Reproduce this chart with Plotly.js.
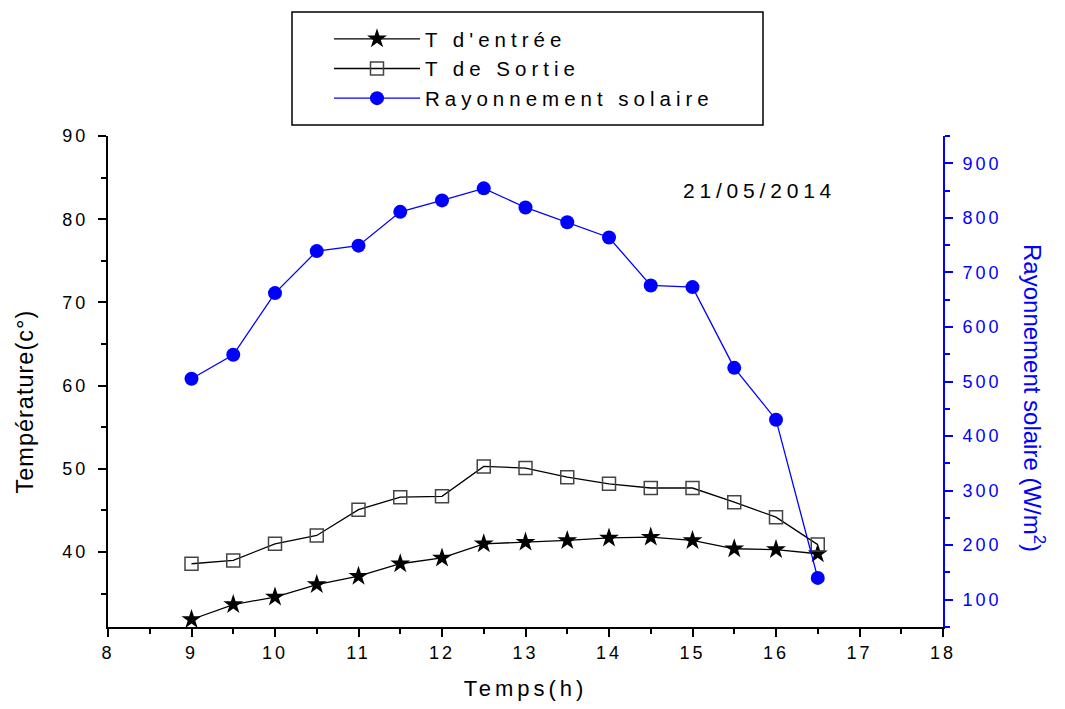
<!DOCTYPE html>
<html>
<head>
<meta charset="utf-8">
<script src="https://cdn.plot.ly/plotly-3.0.1.min.js"></script>
<style>
  html, body { margin: 0; padding: 0; background: #fff; }
  #chart { width: 1065px; height: 709px; }
  .xtick text, .ytick text, .y2tick text { letter-spacing: 3px; }
  .legendtext { letter-spacing: 5px; }
  .g-xtitle text { letter-spacing: 4px; }
  g.annotation[data-index="0"] text { letter-spacing: 4.8px; }
  g.annotation[data-index="2"] text { letter-spacing: 1px; }
</style>
</head>
<body>
<div id="chart"></div>
<script>
// ---- data ----
const hours = [9, 9.5, 10, 10.5, 11, 11.5, 12, 12.5, 13, 13.5, 14, 14.5, 15, 15.5, 16, 16.5];
const tEntree = [31.9, 33.7, 34.6, 36.1, 37.1, 38.6, 39.3, 41.0, 41.2, 41.4, 41.7, 41.8, 41.4, 40.4, 40.3, 39.8];
const tSortie = [38.6, 39.0, 41.0, 42.0, 45.1, 46.6, 46.7, 50.3, 50.1, 49.0, 48.2, 47.7, 47.7, 46.0, 44.2, 40.9];
const rayonnement = [505, 549, 662, 739, 749, 811, 832, 854, 819, 792, 764, 676, 673, 525, 430, 140];

const seriesNames = ["T d'entrée", "T de Sortie", "Rayonnement solaire"];
const xTitle = "Temps(h)";
const yTitle = "Température(c°)";
const y2Title = "Rayonnement solaire (W/m<sup>2</sup>)";
const dateLabel = "21/05/2014";

const font = "Liberation Sans, Arial, sans-serif";

const traces = [
  {
    x: hours, y: tEntree, name: seriesNames[0], type: 'scatter', mode: 'lines+markers',
    line: {color: '#000', width: 1.3},
    marker: {symbol: 'star', size: 15, color: '#000'},
    xaxis: 'x', yaxis: 'y'
  },
  {
    x: hours, y: tSortie, name: seriesNames[1], type: 'scatter', mode: 'lines+markers',
    line: {color: '#000', width: 1.3},
    marker: {symbol: 'square-open', size: 13, color: '#444', line: {width: 1.5, color: '#444'}},
    xaxis: 'x', yaxis: 'y'
  },
  {
    x: hours, y: rayonnement, name: seriesNames[2], type: 'scatter', mode: 'lines+markers',
    line: {color: '#0000ff', width: 1.3},
    marker: {symbol: 'circle', size: 14, color: '#0000ff'},
    xaxis: 'x', yaxis: 'y2'
  }
];

const W = 835, H = 491, L = 108, T = 136;
const px = v => (v - L) / W;
const py = v => 1 - (v - T) / H;

const layout = {
  width: 1065, height: 709,
  margin: {l: L, r: 1065 - L - W, t: T, b: 709 - T - H, pad: 0},
  paper_bgcolor: '#fff', plot_bgcolor: '#fff',
  font: {family: font, size: 18, color: '#000'},
  showlegend: true,
  legend: {
    x: px(329), y: py(19), xanchor: 'left', yanchor: 'top',
    bgcolor: 'rgba(0,0,0,0)', borderwidth: 0,
    font: {family: font, size: 20.5, color: '#000'},
    itemwidth: 86, tracegroupgap: 0
  },
  xaxis: {
    range: [8, 18], dtick: 1, tick0: 8,
    showgrid: false, zeroline: false,
    showline: true, linecolor: '#000', linewidth: 2,
    ticks: 'outside', ticklen: 8, tickwidth: 2, tickcolor: '#000',
    minor: {dtick: 0.5, ticks: 'outside', ticklen: 5, tickwidth: 2, tickcolor: '#000'},
    tickfont: {family: font, size: 18},
    title: {text: xTitle, font: {family: font, size: 22}, standoff: 19},
    anchor: 'y'
  },
  xaxis2: {
    range: [8, 18], dtick: 1, tick0: 8, overlaying: 'x', side: 'top', anchor: 'y',
    showgrid: false, zeroline: false, showticklabels: false,
    showline: true, linecolor: '#000', linewidth: 2,
    ticks: 'inside', ticklen: 8, tickwidth: 2, tickcolor: '#000',
    minor: {dtick: 0.5, ticks: 'inside', ticklen: 5, tickwidth: 2, tickcolor: '#000'}
  },
  yaxis: {
    range: [31, 90], dtick: 10, tick0: 0,
    showgrid: false, zeroline: false,
    showline: true, linecolor: '#000', linewidth: 2,
    ticks: 'outside', ticklen: 8, tickwidth: 2, tickcolor: '#000',
    minor: {dtick: 5, ticks: 'outside', ticklen: 5, tickwidth: 2, tickcolor: '#000'},
    tickfont: {family: font, size: 18},
    ticklabelstandoff: 6
  },
  yaxis2: {
    range: [50, 950], dtick: 100, tick0: 0, overlaying: 'y', side: 'right', anchor: 'x',
    showgrid: false, zeroline: false,
    showline: true, linecolor: '#0000ff', linewidth: 2,
    ticks: 'outside', ticklen: 8, tickwidth: 2, tickcolor: '#0000ff',
    minor: {dtick: 50, ticks: 'outside', ticklen: 5, tickwidth: 2, tickcolor: '#0000ff'},
    tickfont: {family: font, size: 18, color: '#0000ff'},
    ticklabelstandoff: 6
  },
  shapes: [
    {type: 'rect', xref: 'paper', yref: 'paper',
     x0: px(292), x1: px(763), y0: py(125), y1: py(12),
     line: {color: '#000', width: 1.5}, fillcolor: 'rgba(0,0,0,0)'}
  ],
  annotations: [
    {text: dateLabel, xref: 'x', yref: 'y', x: 15.8, y: 83.4, showarrow: false,
     font: {family: font, size: 21, color: '#000'}},
    {text: y2Title, xref: 'paper', yref: 'paper', x: px(1034), y: py(398),
     textangle: 90, showarrow: false, xanchor: 'center', yanchor: 'middle',
     font: {family: font, size: 24, color: '#0000ff'}},
    {text: yTitle, xref: 'paper', yref: 'paper', x: px(25), y: py(402),
     textangle: -90, showarrow: false, xanchor: 'center', yanchor: 'middle',
     font: {family: font, size: 23.5, color: '#000'}}
  ]
};

Plotly.newPlot('chart', traces, layout, {displayModeBar: false, staticPlot: true});
</script>
</body>
</html>
